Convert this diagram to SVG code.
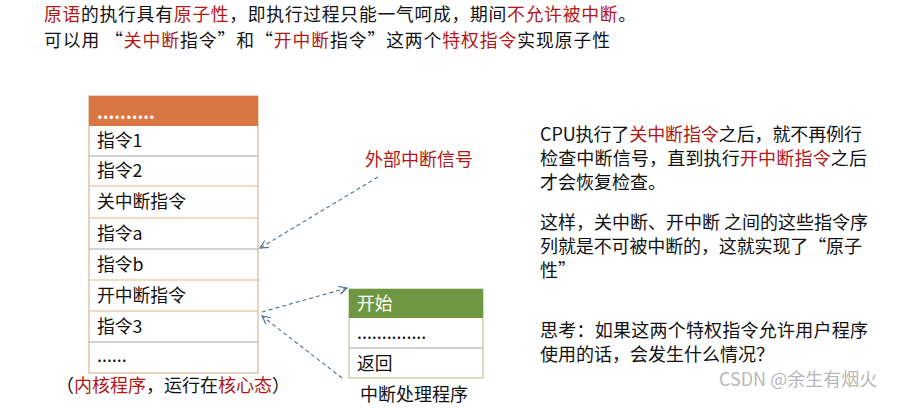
<svg xmlns="http://www.w3.org/2000/svg" width="907" height="408" viewBox="0 0 907 408">
<style>
text{font-family:"Noto Sans CJK SC","Noto Sans",sans-serif;fill:#111}
.r{fill:#b01818}
.t{font-size:17.8px}
.cell{fill:#fff;stroke:#d2b896;stroke-width:1.2}
.sepg{stroke:#a8a8a8;stroke-width:1.2}
.sepo{stroke:#e4b98a;stroke-width:1.2}
.conn{stroke:#51708f;stroke-width:1.1;stroke-dasharray:4 3;fill:none;marker-end:url(#ah)}
</style>
<defs>
<marker id="ah" viewBox="0 0 10 10" refX="9" refY="5" markerWidth="10" markerHeight="10" markerUnits="userSpaceOnUse" orient="auto">
<path d="M1,1 L9,5 L1,9" fill="none" stroke="#51708f" stroke-width="1.2"/>
</marker>
</defs>
<rect width="907" height="408" fill="#fff"/>
<g id="title" font-size="17.8">
<text x="44" y="21" textLength="592" lengthAdjust="spacing"><tspan class="r">原语</tspan>的执行具有<tspan class="r">原子性</tspan>，即执行过程只能一气呵成，期间<tspan class="r">不允许被中断</tspan>。</text>
<text x="44" y="47" textLength="566" lengthAdjust="spacing">可以用 “<tspan class="r">关中断</tspan>指令”和“<tspan class="r">开中断</tspan>指令”这两个<tspan class="r">特权指令</tspan>实现原子性</text>
</g>
<g id="kernel">
<rect x="89" y="96" width="169" height="277" class="cell"/>
<rect x="89" y="96" width="169" height="30" fill="#d97642"/>
<text x="97" y="119" class="t" style="fill:#fff;font-weight:bold">..........</text>
<line x1="89" y1="156" x2="258" y2="156" class="sepg"/>
<line x1="89" y1="186" x2="258" y2="186" class="sepo"/>
<line x1="89" y1="218" x2="258" y2="218" class="sepo"/>
<line x1="89" y1="249" x2="258" y2="249" class="sepg"/>
<line x1="89" y1="280" x2="258" y2="280" class="sepo"/>
<line x1="89" y1="311" x2="258" y2="311" class="sepo"/>
<line x1="89" y1="342" x2="258" y2="342" class="sepg"/>
<text x="97" y="147" class="t">指令1</text>
<text x="97" y="177" class="t">指令2</text>
<text x="97" y="208" class="t">关中断指令</text>
<text x="97" y="240" class="t">指令a</text>
<text x="97" y="271" class="t">指令b</text>
<text x="97" y="302" class="t">开中断指令</text>
<text x="97" y="333" class="t">指令3</text>
<text x="97" y="362" class="t">......</text>
<text x="56" y="392" font-size="18">（<tspan class="r">内核程序</tspan>，运行在<tspan class="r">核心态</tspan>）</text>
</g>
<g id="signal">
<text x="365" y="166" font-size="18" class="r">外部中断信号</text>
</g>
<g id="handler">
<rect x="349" y="289" width="134" height="89" fill="#fff" stroke="#b9cc9a" stroke-width="1.2"/>
<rect x="349" y="289" width="134" height="29" fill="#6f9641"/>
<line x1="349" y1="348" x2="483" y2="348" class="sepg"/>
<text x="357" y="310" class="t" style="fill:#fff">开始</text>
<text x="357" y="339" class="t">..............</text>
<text x="357" y="370" class="t">返回</text>
<text x="360" y="401" font-size="18">中断处理程序</text>
</g>
<g id="connectors">
<line x1="378" y1="177" x2="260" y2="248" class="conn"/>
<line x1="262" y1="312" x2="347" y2="288" class="conn"/>
<line x1="342" y1="378" x2="262" y2="316" class="conn"/>
</g>
<g id="notes" font-size="18">
<text x="540" y="141" textLength="322" lengthAdjust="spacing">CPU执行了<tspan class="r">关中断指令</tspan>之后，就不再例行</text>
<text x="540" y="165" textLength="327" lengthAdjust="spacing">检查中断信号，直到执行<tspan class="r">开中断指令</tspan>之后</text>
<text x="540" y="189">才会恢复检查。</text>
<text x="540" y="229" textLength="328" lengthAdjust="spacing">这样，关中断、开中断 之间的这些指令序</text>
<text x="540" y="253" textLength="322" lengthAdjust="spacing">列就是不可被中断的，这就实现了“原子</text>
<text x="540" y="277">性”</text>
<text x="540" y="337" textLength="328" lengthAdjust="spacing">思考：如果这两个特权指令允许用户程序</text>
<text x="540" y="361">使用的话，会发生什么情况？</text>
</g>
<text x="719" y="386" font-size="18" style="fill:#b8b8b8">CSDN @余生有烟火</text>
</svg>
